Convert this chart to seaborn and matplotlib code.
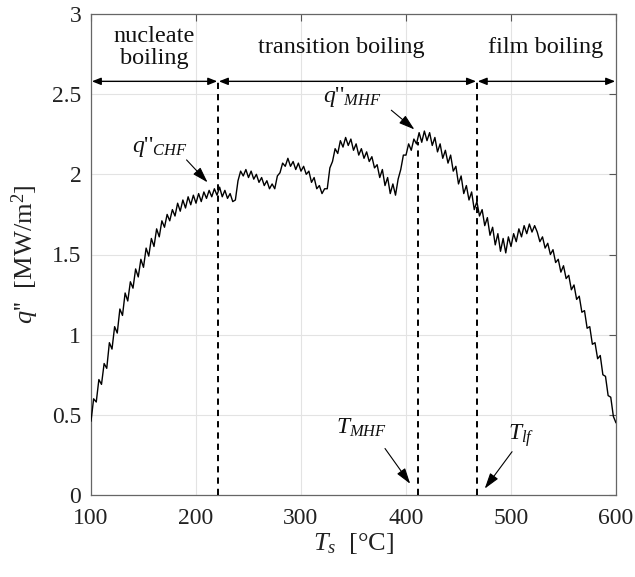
import numpy as np
import pandas as pd
import matplotlib
matplotlib.use("Agg")
import matplotlib.pyplot as plt
import seaborn as sns

# ---------------- data ----------------
T_start, T_stop, T_step = 100.0, 600.0, 2.5
q_flux = [
    0.46, 0.60, 0.58, 0.72, 0.69, 0.82, 0.79, 0.95, 0.91, 1.05,   # 100-122.5
    1.01, 1.16, 1.12, 1.26, 1.21, 1.33, 1.29, 1.41, 1.36, 1.47,   # 125-147.5
    1.42, 1.54, 1.49, 1.60, 1.55, 1.66, 1.61, 1.71, 1.67, 1.75,   # 150-172.5
    1.71, 1.78, 1.74, 1.82, 1.77, 1.84, 1.79, 1.86, 1.81, 1.87,   # 175-197.5
    1.82, 1.88, 1.83, 1.89, 1.85, 1.90, 1.86, 1.91, 1.87, 1.92,   # 200-222.5
    1.86, 1.90, 1.85, 1.88, 1.83, 1.84, 1.96, 2.02, 1.99, 2.03,   # 225-247.5
    1.98, 2.02, 1.97, 2.00, 1.95, 1.98, 1.93, 1.96, 1.91, 1.94,   # 250-272.5
    1.91, 1.99, 2.01, 2.07, 2.05, 2.10, 2.05, 2.08, 2.03, 2.07,   # 275-297.5
    2.02, 2.05, 2.00, 2.02, 1.95, 1.98, 1.91, 1.93, 1.88, 1.91,   # 300-322.5
    1.91, 2.04, 2.08, 2.16, 2.13, 2.21, 2.17, 2.23, 2.18, 2.22,   # 325-347.5
    2.15, 2.19, 2.12, 2.16, 2.10, 2.14, 2.08, 2.11, 2.04, 2.06,   # 350-372.5
    1.98, 2.03, 1.93, 1.98, 1.88, 1.94, 1.87, 1.97, 2.03, 2.12,   # 375-397.5
    2.12, 2.19, 2.15, 2.22, 2.19, 2.26, 2.20, 2.27, 2.21, 2.26,   # 400-422.5
    2.18, 2.23, 2.14, 2.19, 2.10, 2.15, 2.07, 2.12, 2.02, 2.05,   # 425-447.5
    1.94, 1.99, 1.88, 1.93, 1.84, 1.89, 1.78, 1.83, 1.74, 1.78,   # 450-472.5
    1.68, 1.73, 1.62, 1.67, 1.56, 1.63, 1.52, 1.60, 1.51, 1.61,   # 475-497.5
    1.55, 1.63, 1.58, 1.66, 1.61, 1.68, 1.63, 1.69, 1.64, 1.68,   # 500-522.5
    1.64, 1.58, 1.61, 1.54, 1.57, 1.50, 1.53, 1.45, 1.47, 1.39,   # 525-547.5
    1.43, 1.35, 1.37, 1.28, 1.31, 1.22, 1.24, 1.14, 1.15, 1.04,   # 550-572.5
    1.05, 0.94, 0.95, 0.85, 0.87, 0.75, 0.74, 0.62, 0.61, 0.49,   # 575-597.5
    0.45,                                                         # 600
]
T_surface = np.arange(T_start, T_stop + T_step / 2, T_step)

x_ticks = [100, 200, 300, 400, 500, 600]
y_ticks = [0, 0.5, 1, 1.5, 2, 2.5, 3]
y_tick_labels = ["0", "0.5", "1", "1.5", "2", "2.5", "3"]

T_marks = [221.0, 411.0, 467.5]          # dashed vertical lines
T_mark_tops = [2.58, 2.20, 2.58]
regime_bounds = [100.0, 221.0, 467.5, 600.0]
regime_names = ["nucleate\nboiling", "transition boiling", "film boiling"]
regime_label_x = [160.0, 338.0, 533.0]
regime_arrow_y = 2.58

# annotations: (text, text xy, arrow start, arrow tip)
annotations = [
    ("$q$''$_{CHF}$", (166.0, 2.17), (191.0, 2.09), (211.0, 1.95)),
    ("$q$''$_{MHF}$", (349.0, 2.48), (386.0, 2.40), (408.0, 2.28)),
    ("$T_{MHF}$",     (358.0, 0.42), (380.0, 0.29), (404.0, 0.07)),
    ("$T_{lf}$",      (510.0, 0.37), (501.0, 0.27), (475.0, 0.04)),
]

# ---------------- style ----------------
sns.set_theme(style="whitegrid")
plt.rcParams["font.family"] = ["Liberation Serif", "DejaVu Serif"]
plt.rcParams["mathtext.fontset"] = "custom"
plt.rcParams["mathtext.rm"] = "Liberation Serif"
plt.rcParams["mathtext.it"] = "Liberation Serif:italic"
plt.rcParams["mathtext.bf"] = "Liberation Serif:bold"

fig = plt.figure(figsize=(6.35, 5.77), dpi=100)
ax = fig.add_axes([91 / 635, 1 - 495 / 577, 525 / 635, 481 / 577])
ax.set_facecolor("white")

df = pd.DataFrame({"T": T_surface, "q": q_flux})
sns.lineplot(data=df, x="T", y="q", ax=ax, color="black", lw=1.0,
             estimator=None, sort=False, zorder=3)

for xm, top in zip(T_marks, T_mark_tops):
    ax.plot([xm, xm], [0, top], color="black", lw=1.4,
            linestyle=(0, (3.2, 2.6)), zorder=4)

for a, b in zip(regime_bounds[:-1], regime_bounds[1:]):
    ax.annotate("", xy=(b - 0.8, regime_arrow_y), xytext=(a + 0.8, regime_arrow_y),
                arrowprops=dict(arrowstyle="<|-|>,head_length=0.45,head_width=0.18",
                                color="black", lw=1.0, shrinkA=0, shrinkB=0),
                zorder=5)

for name, xl in zip(regime_names, regime_label_x):
    ax.text(xl, 2.79, name, ha="center", va="center", fontsize=17.5,
            linespacing=1.08, color="#111111")

for txt, xy_t, xy_s, xy_tip in annotations:
    ax.text(xy_t[0], xy_t[1], txt, ha="center", va="center", fontsize=17,
            color="#111111")
    ax.annotate("", xy=xy_tip, xytext=xy_s,
                arrowprops=dict(arrowstyle="-|>,head_length=0.8,head_width=0.25",
                                color="black", lw=0.8, shrinkA=0, shrinkB=0))

ax.set_xlim(100, 600)
ax.set_ylim(0, 3)
ax.set_xticks(x_ticks)
ax.set_yticks(y_ticks)
ax.set_yticklabels(y_tick_labels)
ax.grid(True, color="#e3e3e3", lw=0.8)
ax.tick_params(direction="in", top=True, right=True, length=5, width=0.8,
               color="#555555", labelsize=17, labelcolor="#222222")
ax.tick_params(axis="x", pad=9)
ax.tick_params(axis="y", pad=7)
for s in ax.spines.values():
    s.set_color("#666666")
    s.set_linewidth(0.9)

ax.set_xlabel("$T_s$  [°C]", fontsize=19, color="#222222", labelpad=2)
ax.set_ylabel("$q$''  [MW/m$^2$]", fontsize=19, color="#222222", labelpad=8)

fig.savefig("out.png", dpi=100)
